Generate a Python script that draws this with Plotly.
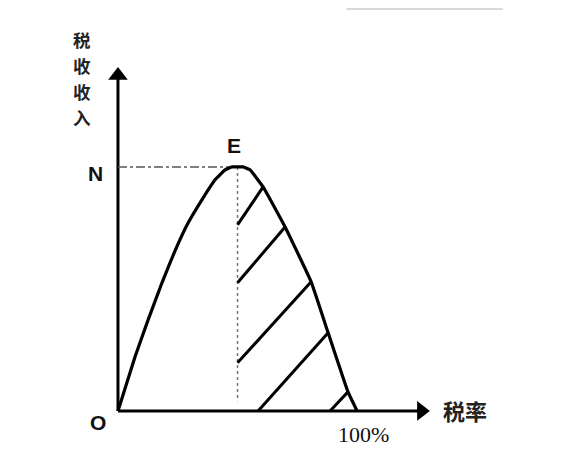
import plotly.graph_objects as go

# 拉弗曲线：税率(%) 与 税收收入（以最高点 N = 100 计）
tax_rate = [0, 7.1, 12.6, 18.4, 23.8, 29.3, 35.1, 40.6, 44.8, 47.7, 50, 52.3,
            55.2, 60.7, 69.9, 80.8, 87.9, 96.2, 100]
revenue = [0, 22.1, 37.3, 52.5, 65.5, 77.0, 86.5, 94.7, 98.8, 100, 100, 100,
           98.8, 91.8, 75.4, 52.9, 32.0, 7.8, 0]

peak_rate = 50
peak_revenue = 100

# 阴影斜线（起点 -> 终点）
hatch_x0 = [50, 50, 50, 58.6, 88.7]
hatch_y0 = [76.2, 52.5, 19.7, 0, 0]
hatch_x1 = [60.7, 69.9, 80.8, 87.9, 96.2]
hatch_y1 = [91.8, 75.4, 52.9, 32.0, 7.8]

x_axis_end = 130.5
y_axis_end = 141

y_title_chars = ["税", "收", "收", "入"]
y_title_pos = [152.0, 141.4, 130.7, 120.1]

hx, hy = [], []
for a, b, c, d in zip(hatch_x0, hatch_y0, hatch_x1, hatch_y1):
    hx += [a, c, None]
    hy += [b, d, None]

fig = go.Figure()

# 坐标轴
fig.add_trace(go.Scatter(x=[0, 0, None, 0, x_axis_end - 3], y=[y_axis_end - 4, 0, None, 0, 0],
                         mode="lines", line=dict(color="black", width=3), hoverinfo="skip"))
fig.add_trace(go.Scatter(x=[0], y=[y_axis_end - 3.6], mode="markers",
                         marker=dict(symbol="triangle-up", size=17, color="black"), hoverinfo="skip"))
fig.add_trace(go.Scatter(x=[x_axis_end - 3.6], y=[0], mode="markers",
                         marker=dict(symbol="triangle-right", size=17, color="black"), hoverinfo="skip"))

# 虚线
fig.add_trace(go.Scatter(x=[0, peak_rate], y=[peak_revenue, peak_revenue], mode="lines",
                         line=dict(color="#555555", width=1.5, dash="dashdot"), hoverinfo="skip"))
fig.add_trace(go.Scatter(x=[peak_rate, peak_rate], y=[peak_revenue, 4], mode="lines",
                         line=dict(color="#777777", width=1.5, dash="dot"), hoverinfo="skip"))

# 曲线与阴影
fig.add_trace(go.Scatter(x=hx, y=hy, mode="lines", line=dict(color="black", width=3),
                         hoverinfo="skip"))
fig.add_trace(go.Scatter(x=tax_rate, y=revenue, mode="lines",
                         line=dict(color="black", width=3.2, shape="spline", smoothing=0.3),
                         hoverinfo="skip"))

cjk = "Noto Sans CJK SC"
for ch, yy in zip(y_title_chars, y_title_pos):
    fig.add_annotation(x=-15.1, y=yy, text=f"<b>{ch}</b>", xref="x", yref="y", showarrow=False,
                       borderpad=0, font=dict(size=17.5, family=cjk, color="#222"))

annotations = [
    dict(x=-9.6, y=97.1, text="<b>N</b>", font=dict(size=21, family="Liberation Sans", color="#111")),
    dict(x=48.5, y=108.6, text="<b>E</b>", font=dict(size=21, family="Liberation Sans", color="#111")),
    dict(x=-8.4, y=-4.9, text="<b>O</b>", font=dict(size=21, family="Liberation Sans", color="#111")),
    dict(x=102.5, y=-9.8, text="100%", font=dict(size=22, family="Liberation Serif", color="#111")),
    dict(x=145.2, y=0.2, text="<b>税率</b>", font=dict(size=22, family=cjk, color="#222")),
]
for a in annotations:
    fig.add_annotation(xref="x", yref="y", showarrow=False, **a)

# 右上角残留的浅色边框
fig.add_shape(type="line", xref="paper", yref="paper", x0=0.594, x1=0.868, y0=0.998, y1=0.998,
              line=dict(color="#cccccc", width=1.5))

fig.update_layout(
    width=570, height=472,
    margin=dict(l=0, r=0, t=0, b=0),
    paper_bgcolor="white", plot_bgcolor="white",
    showlegend=False,
    xaxis=dict(range=[-46.0, 192.4], visible=False),
    yaxis=dict(range=[-28.3, 165.1], visible=False),
)

fig.write_html("out.html")
